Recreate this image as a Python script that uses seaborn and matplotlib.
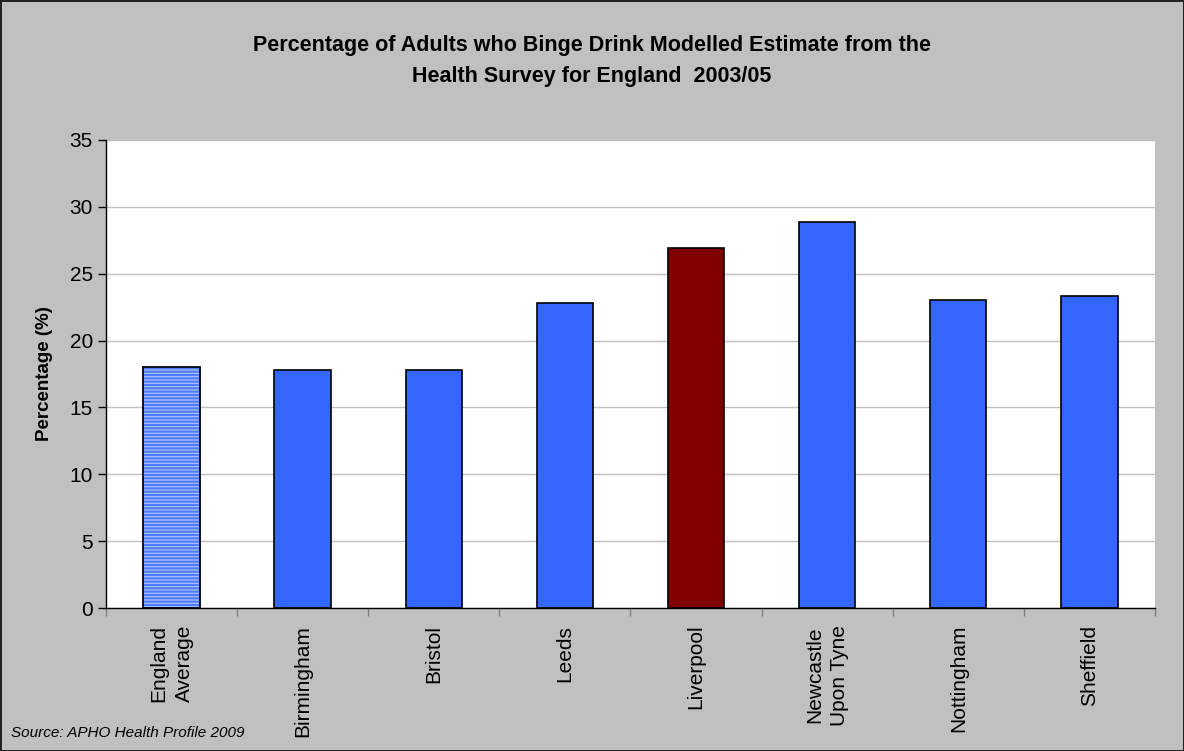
import pandas as pd
import matplotlib
matplotlib.use("Agg")
import matplotlib.pyplot as plt
import seaborn as sns

# Chart values
areas = ["England\nAverage", "Birmingham", "Bristol", "Leeds", "Liverpool",
         "Newcastle\nUpon Tyne", "Nottingham", "Sheffield"]
percent = [18.0, 17.8, 17.8, 22.8, 26.9, 28.9, 23.0, 23.3]
colours = ["#a8bfff", "#3366ff", "#3366ff", "#3366ff", "#800000",
           "#3366ff", "#3366ff", "#3366ff"]

df = pd.DataFrame({"area": areas, "pct": percent})

sns.set_style("white")
plt.rcParams["font.family"] = ["Liberation Sans", "DejaVu Sans"]
plt.rcParams["hatch.linewidth"] = 1.5

fig = plt.figure(figsize=(11.84, 7.51), dpi=100, facecolor="#c0c0c0",
                 edgecolor="#222222", linewidth=2)
ax = fig.add_axes([0.0895, 0.1904, 0.886, 0.6232])

sns.barplot(data=df, x="area", y="pct", hue="area", palette=colours,
            legend=False, width=0.43, edgecolor="black", linewidth=1.2,
            saturation=1, ax=ax)

# hatched England average bar: blue stripes, black outline
avg = ax.patches[0]
avg.set_hatch("-----")
if hasattr(avg, "set_hatchcolor"):
    avg.set_hatchcolor("#4d7aff")
else:
    avg.set_edgecolor("#4d7aff")
    ax.bar(0, percent[0], width=0.43, fill=False, edgecolor="black",
           linewidth=1.2, zorder=avg.get_zorder() + 0.1)

ax.set_ylim(0, 35)
ax.set_yticks(range(0, 36, 5))
ax.set_xlim(-0.5, len(areas) - 0.5)
ax.yaxis.grid(True, color="#c0c0c0", linewidth=1)
ax.set_axisbelow(True)

for s in ["top", "right"]:
    ax.spines[s].set_visible(False)
for s in ["left", "bottom"]:
    ax.spines[s].set_color("black")
    ax.spines[s].set_linewidth(1)

ax.tick_params(axis="y", which="major", direction="out", length=6, width=1,
               left=True, labelsize=15, color="black", labelcolor="black")
ax.tick_params(axis="x", which="major", length=0, labelsize=15, pad=12,
               labelcolor="black")
ax.set_xticks([i + 0.5 for i in range(-1, len(areas))], minor=True)
ax.tick_params(axis="x", which="minor", direction="out", length=6, width=1,
               bottom=True, color="gray")
ax.set_xticklabels(areas, rotation=90, va="top", ha="center", linespacing=1.4)

ax.set_xlabel("")
ax.set_ylabel("Percentage (%)", fontsize=13.5, fontweight="bold", labelpad=12,
              color="black")

fig.text(0.5, 0.919, "Percentage of Adults who Binge Drink Modelled Estimate from the\n"
         "Health Survey for England  2003/05", ha="center", va="center",
         fontsize=15.5, fontweight="bold", linespacing=1.6, color="black")
fig.text(0.009, 0.024, "Source: APHO Health Profile 2009", fontsize=11,
         style="italic", ha="left", va="center", color="black")

fig.savefig("out.png", dpi=100, facecolor=fig.get_facecolor(),
            edgecolor=fig.get_edgecolor())
